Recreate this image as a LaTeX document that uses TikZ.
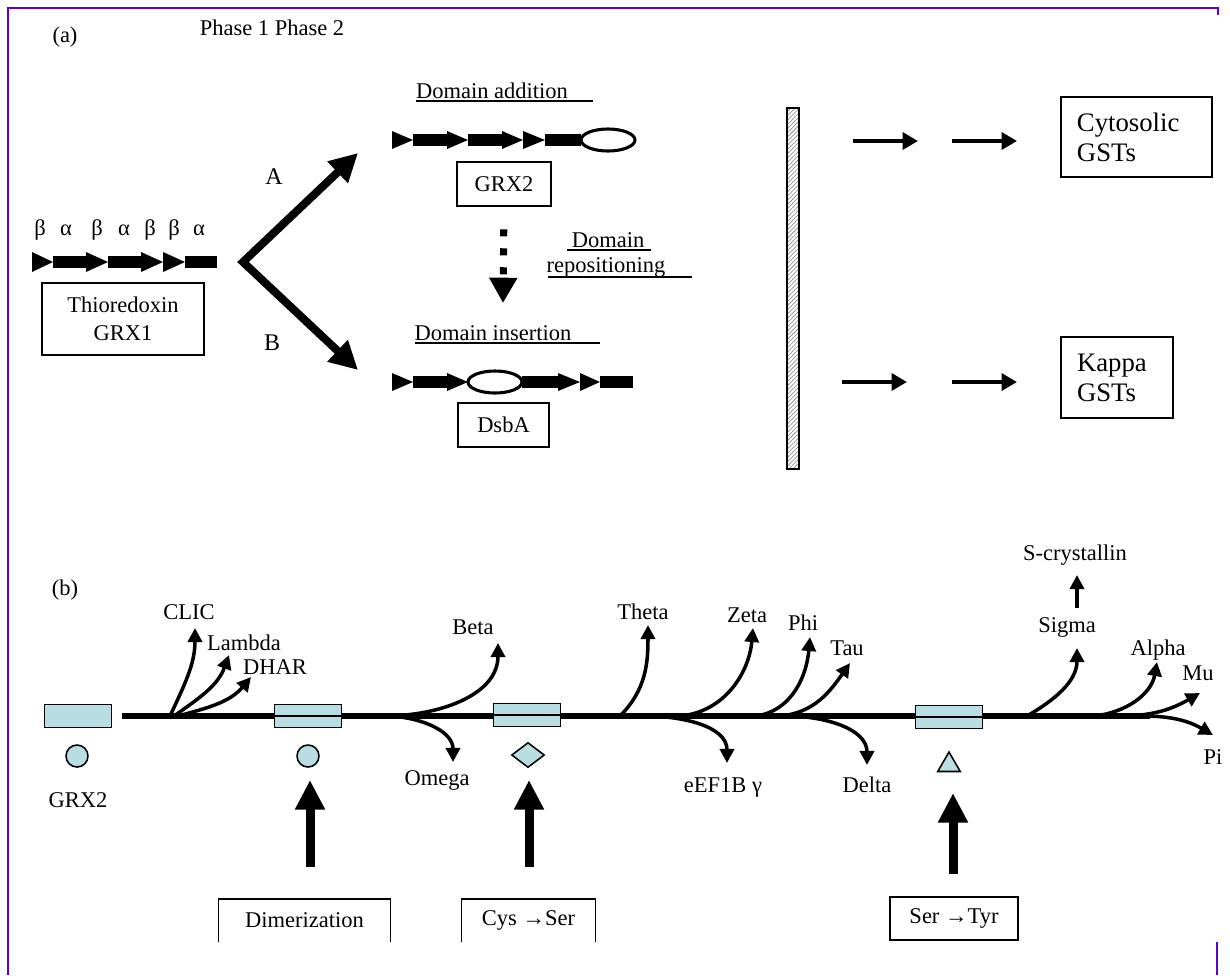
\documentclass[tikz,border=0pt]{standalone}
\usepackage{fontspec}
\setmainfont{Liberation Serif}
\usetikzlibrary{arrows.meta}
\usetikzlibrary{calc}
\usetikzlibrary{shapes}
\usetikzlibrary{patterns}

\definecolor{frame_purple}{RGB}{90,0,210}
\definecolor{box_blue}{RGB}{184,222,228}

\begin{document}
\begin{tikzpicture}[x=0.025cm, y=0.025cm,
        label_style/.style={font=\fontsize{16}{20}\selectfont, inner sep=0pt},
        box_style/.style={draw, line width=1.1pt, font=\fontsize{16}{20}\selectfont, align=center, inner sep=0pt},
        gst_box_style/.style={draw, line width=1.1pt, font=\fontsize{19}{21.3}\selectfont, align=left, inner xsep=0.4cm, inner ysep=0pt},
        gene_box_style/.style={draw, line width=1.1pt, fill=box_blue, minimum width=1.675cm, minimum height=0.575cm, inner sep=0pt},
        site_style/.style={draw, line width=1.1pt, fill=box_blue, inner sep=0pt},
        fork_edge_style/.style={draw=black, line width=5.7pt, line join=miter, {Triangle[length=20pt,width=20pt]}-{Triangle[length=20pt,width=20pt]}},
        move_edge_style/.style={draw=black, line width=5pt, dash pattern=on 5pt off 8.5pt, -{Triangle[length=18pt,width=19pt]}},
        gst_edge_style/.style={draw=black, line width=3.5pt, -{Triangle[length=11pt,width=12pt]}},
        main_line_style/.style={draw=black, line width=3.6pt},
        branch_edge_style/.style={draw=black, line width=2.5pt, -{Triangle[length=10pt,width=10pt]}},
        mutation_edge_style/.style={draw=black, line width=6.4pt, -{Triangle[length=21pt,width=20pt]}}]

        \useasboundingbox (0,-975) rectangle (1230,0);

        % frame
        \draw [frame_purple, line width=1.4pt] (8,-975) -- (8,-8) -- (1218,-8) -- (1218,-15);
        \draw [frame_purple, line width=1.4pt] (1217,-942) -- (1217,-975);

        % ---------- (a) ----------
        \node [label_style](tag_a) at (65,-37) {(a)};
        \node [label_style](phases) at (272,-28) {Phase 1 Phase 2};

        \node [label_style](ss1) at (40,-230) {β};
        \node [label_style](ss2) at (66,-230) {α};
        \node [label_style](ss3) at (97,-230) {β};
        \node [label_style](ss4) at (124,-230) {α};
        \node [label_style](ss5) at (150,-230) {β};
        \node [label_style](ss6) at (174,-230) {β};
        \node [label_style](ss7) at (199,-230) {α};

        % thioredoxin fold
        \fill (32,-252) -- (53,-262) -- (32,-272) -- cycle;
        \fill (53,-256) rectangle (86,-268);
        \fill (86,-252) -- (108,-262) -- (86,-272) -- cycle;
        \fill (108,-256) rectangle (141,-268);
        \fill (141,-252) -- (163,-262) -- (141,-272) -- cycle;
        \fill (163,-252) -- (185,-262) -- (163,-272) -- cycle;
        \fill (185,-256) rectangle (217,-268);

        \node [box_style, minimum width=4.05cm, minimum height=1.8cm](trx) at (123,-319) {Thioredoxin\\GRX1};

        \coordinate (fork) at (243,-262);
        \coordinate (tip_a) at (358,-153);
        \coordinate (tip_b) at (358,-370);
        \draw [fork_edge_style] (tip_a) -- (fork) -- (tip_b);
        \node [label_style, font=\fontsize{17}{20}\selectfont](path_a) at (274,-177) {A};
        \node [label_style, font=\fontsize{17}{20}\selectfont](path_b) at (272,-343) {B};

        % domain addition
        \node [label_style](add) at (492,-91) {Domain addition};
        \draw [line width=1pt] (416,-101) -- (593,-101);
        \fill (392,-131) -- (413,-140) -- (392,-149) -- cycle;
        \fill (413,-134) rectangle (447,-146);
        \fill (447,-131) -- (468,-140) -- (447,-149) -- cycle;
        \fill (468,-134) rectangle (502,-146);
        \fill (502,-131) -- (523,-140) -- (502,-149) -- cycle;
        \fill (523,-131) -- (545,-140) -- (523,-149) -- cycle;
        \fill (545,-134) rectangle (581,-146);
        \draw [line width=2.2pt] (608,-140) ellipse [x radius=27, y radius=11];
        \node [box_style, minimum width=2.35cm, minimum height=1.1cm](grx2) at (504,-184) {GRX2};

        % domain repositioning
        \coordinate (move_tip) at (503,-303);
        \draw [move_edge_style, shorten <=16pt] (grx2.south) -- (move_tip);
        \node [label_style](repos1) at (608,-240) {Domain};
        \draw [line width=1pt] (567,-250) -- (651,-250);
        \node [label_style](repos2) at (606,-267) {repositioning};
        \draw [line width=1pt] (548,-277) -- (692,-277);

        % domain insertion
        \node [label_style](ins) at (493,-333) {Domain insertion};
        \draw [line width=1pt] (415,-343) -- (600,-343);
        \fill (392,-373) -- (413,-382) -- (392,-391) -- cycle;
        \fill (413,-376) rectangle (447,-388);
        \fill (447,-373) -- (468,-382) -- (447,-391) -- cycle;
        \fill (522,-376) rectangle (558,-388);
        \fill (558,-373) -- (580,-382) -- (558,-391) -- cycle;
        \fill (580,-373) -- (600,-382) -- (580,-391) -- cycle;
        \fill (600,-376) rectangle (633,-388);
        \draw [line width=2.2pt] (495,-382) ellipse [x radius=27, y radius=11];
        \node [box_style, minimum width=2.275cm, minimum height=1.1cm](dsba) at (503.5,-425) {DsbA};

        % barrier
        \draw [line width=0.9pt, pattern=north east lines, pattern color=gray] (787,-108) rectangle (799,-469);

        \coordinate (cyto_a) at (853,-141);
        \coordinate (cyto_b) at (918,-141);
        \coordinate (cyto_c) at (952,-141);
        \coordinate (cyto_d) at (1017,-141);
        \draw [gst_edge_style] (cyto_a) -- (cyto_b);
        \draw [gst_edge_style] (cyto_c) -- (cyto_d);
        \node [gst_box_style, text width=2.975cm, minimum height=2cm](cyto) at (1136.5,-137) {Cytosolic\\GSTs};

        \coordinate (kappa_a) at (842,-382);
        \coordinate (kappa_b) at (907,-382);
        \coordinate (kappa_c) at (952,-382);
        \coordinate (kappa_d) at (1017,-382);
        \draw [gst_edge_style] (kappa_a) -- (kappa_b);
        \draw [gst_edge_style] (kappa_c) -- (kappa_d);
        \node [gst_box_style, text width=2.0cm, minimum height=2.025cm](kappa) at (1117,-377.5) {Kappa\\GSTs};

        % ---------- (b) ----------
        \node [label_style](tag_b) at (65,-590) {(b)};

        \coordinate (line_start) at (122,-716);
        \coordinate (line_end) at (1150,-716);
        \draw [main_line_style] (line_start) -- (line_end);

        \coordinate (r_clic) at (170,-716);   \coordinate (t_clic) at (195,-628);
        \coordinate (r_lambda) at (174,-716); \coordinate (t_lambda) at (229,-655);
        \coordinate (r_dhar) at (178,-716);   \coordinate (t_dhar) at (251,-677);
        \coordinate (r_beta) at (385,-716);   \coordinate (t_beta) at (498,-643);
        \coordinate (r_omega) at (385,-716);  \coordinate (t_omega) at (453,-762);
        \coordinate (r_theta) at (620,-716);  \coordinate (t_theta) at (648,-625);
        \coordinate (r_eef) at (645,-716);    \coordinate (t_eef) at (727,-763);
        \coordinate (r_zeta) at (680,-716);   \coordinate (t_zeta) at (753,-628);
        \coordinate (r_phi) at (757,-716);    \coordinate (t_phi) at (810,-637);
        \coordinate (r_tau) at (780,-716);    \coordinate (t_tau) at (850,-663);
        \coordinate (r_delta) at (787,-716);  \coordinate (t_delta) at (867,-765);
        \coordinate (r_sigma) at (1027,-716); \coordinate (t_sigma) at (1077,-648);
        \coordinate (r_alpha) at (1093,-716); \coordinate (t_alpha) at (1157,-662);
        \coordinate (r_mu) at (1120,-716);    \coordinate (t_mu) at (1200,-693);
        \coordinate (r_pi) at (1143,-716);    \coordinate (t_pi) at (1213,-735);

        \draw [branch_edge_style] (r_clic) to[out=65, in=-90] (t_clic);
        \draw [branch_edge_style] (r_lambda) to[out=35, in=-110] (t_lambda);
        \draw [branch_edge_style] (r_dhar) to[out=15, in=-130] (t_dhar);
        \draw [branch_edge_style] (r_beta) to[out=0, in=-90] (t_beta);
        \draw [branch_edge_style] (r_omega) to[out=0, in=90] (t_omega);
        \draw [branch_edge_style] (r_theta) to[out=45, in=-90] (t_theta);
        \draw [branch_edge_style] (r_eef) to[out=0, in=90] (t_eef);
        \draw [branch_edge_style] (r_zeta) to[out=5, in=-95] (t_zeta);
        \draw [branch_edge_style] (r_phi) to[out=10, in=-95] (t_phi);
        \draw [branch_edge_style] (r_tau) to[out=5, in=-125] (t_tau);
        \draw [branch_edge_style] (r_delta) to[out=0, in=90] (t_delta);
        \draw [branch_edge_style] (r_sigma) to[out=30, in=-90] (t_sigma);
        \draw [branch_edge_style] (r_alpha) to[out=5, in=-100] (t_alpha);
        \draw [branch_edge_style] (r_mu) to[out=0, in=-150] (t_mu);
        \draw [branch_edge_style] (r_pi) to[out=0, in=150] (t_pi);

        \node [label_style](clic) at (189,-612) {CLIC};
        \node [label_style](lambda) at (244,-643) {Lambda};
        \node [label_style](dhar) at (275,-667) {DHAR};
        \node [label_style](beta) at (473,-627) {Beta};
        \node [label_style](omega) at (437,-780) {Omega};
        \node [label_style](theta) at (643,-612) {Theta};
        \node [label_style](eef) at (723,-787) {eEF1B γ};
        \node [label_style](zeta) at (747,-615) {Zeta};
        \node [label_style](phi) at (803,-623) {Phi};
        \node [label_style](tau) at (847,-648) {Tau};
        \node [label_style](delta) at (867,-785) {Delta};
        \node [label_style](sigma) at (1067,-627) {Sigma};
        \node [label_style](scryst) at (1075,-555) {S-crystallin};
        \node [label_style](alpha) at (1158,-650) {Alpha};
        \node [label_style](mu) at (1198,-673) {Mu};
        \node [label_style](pi) at (1213,-757) {Pi};

        \coordinate (sig_foot) at (1077,-608);
        \coordinate (sig_tip) at (1077,-575);
        \draw [branch_edge_style, line width=3pt] (sig_foot) -- (sig_tip);

        % domain boxes on the line
        \node [gene_box_style](g_grx2) at (78,-716) {};
        \node [gene_box_style](g_dim) at (308,-716) {};
        \draw [line width=0.8pt] (g_dim.west) -- (g_dim.east);
        \node [gene_box_style](g_cys) at (527,-715) {};
        \draw [line width=0.8pt] (g_cys.west) -- (g_cys.east);
        \node [gene_box_style](g_ser) at (949,-717) {};
        \draw [line width=0.8pt] (g_ser.west) -- (g_ser.east);

        \node [site_style, circle, minimum size=0.55cm](s_grx2) at (77,-756) {};
        \node [site_style, circle, minimum size=0.55cm](s_dim) at (308,-756) {};
        \node [site_style, diamond, minimum width=0.825cm, minimum height=0.625cm](s_cys) at (528,-755) {};
        \node [site_style, regular polygon, regular polygon sides=3, minimum size=0.65cm](s_ser) at (949,-765) {};
        \node [label_style](grx2_b) at (78,-800) {GRX2};

        % mutations
        \coordinate (dim_foot) at (310,-867);  \coordinate (dim_tip) at (310,-780);
        \coordinate (cys_foot) at (529,-867);  \coordinate (cys_tip) at (529,-780);
        \coordinate (ser_foot) at (953,-874);  \coordinate (ser_tip) at (953,-793);
        \draw [mutation_edge_style] (dim_foot) -- (dim_tip);
        \draw [mutation_edge_style] (cys_foot) -- (cys_tip);
        \draw [mutation_edge_style] (ser_foot) -- (ser_tip);

        \node [label_style, minimum width=4.275cm, minimum height=1.075cm](dim) at (304.5,-920.5) {Dimerization};
        \draw [line width=1.1pt] (dim.south west) -- (dim.north west) -- (dim.north east) -- (dim.south east);
        \node [label_style, minimum width=3.325cm, minimum height=1.075cm](cys) at (528.5,-920.5) {Cys →Ser};
        \draw [line width=1.1pt] (cys.south west) -- (cys.north west) -- (cys.north east) -- (cys.south east);
        \node [box_style, minimum width=3.2cm, minimum height=1.075cm](ser) at (954,-918.5) {Ser →Tyr};

        \end{tikzpicture}
\end{document}
